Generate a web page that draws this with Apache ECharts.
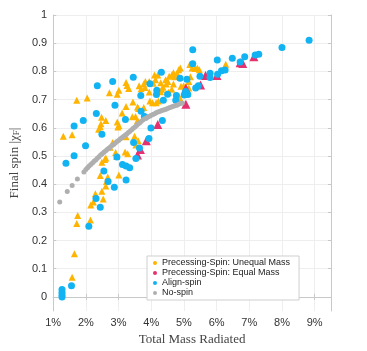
<!DOCTYPE html>
<html>
<head>
<meta charset="utf-8">
<script src="https://cdn.jsdelivr.net/npm/echarts@6/dist/echarts.min.js"></script>
<style>
  html, body { margin: 0; padding: 0; background: #fff; }
  #chart { width: 367px; height: 351px; }
</style>
</head>
<body>
<div id="chart"></div>
<script>
// [mass radiated %, final spin]
var unequalMass = [
  [1.58,0.07],[1.65,0.153],[1.72,0.26],[1.75,0.289],[2.14,0.273],[2.15,0.326],[2.23,0.337],[2.29,0.366],
  [2.49,0.375],[2.53,0.347],[2.61,0.393],[2.44,0.431],[2.67,0.425],[2.63,0.409],[3.01,0.432],[2.49,0.478],
  [2.58,0.487],[2.61,0.493],[2.91,0.512],[2.94,0.498],[3.2,0.514],[3.28,0.508],[2.74,0.531],[2.82,0.548],
  [3.49,0.57],[3.53,0.539],[3.6,0.554],[3.23,0.568],
  [1.31,0.57],[1.58,0.575],[1.72,0.698],[2.04,0.706],[2.39,0.595],[2.44,0.604],[2.46,0.614],[2.48,0.637],
  [2.61,0.626],[2.72,0.724],[2.96,0.719],[3.01,0.733],[2.96,0.62],[3.01,0.608],[2.98,0.603],[3.11,0.652],
  [3.23,0.675],[3.23,0.761],[3.26,0.75],[3.31,0.739],[3.44,0.691],[3.42,0.639],[3.52,0.64],[3.58,0.626],
  [3.61,0.668],[3.58,0.674],[3.63,0.749],[3.69,0.738],[3.77,0.755],[3.82,0.764],[3.81,0.743],[3.94,0.764],
  [3.94,0.727],[3.96,0.695],[4.04,0.689],[4.15,0.689],[4.22,0.695],[4.06,0.758],[4.13,0.77],[4.1,0.787],
  [4.2,0.787],[4.29,0.76],[4.44,0.77],[4.46,0.755],[4.32,0.737],[4.36,0.744],[4.29,0.728],[4.51,0.764],
  [4.55,0.783],[4.63,0.787],[4.68,0.795],[4.72,0.781],[4.79,0.793],[4.84,0.806],[4.89,0.812],[4.68,0.755],
  [4.63,0.737],[4.53,0.726],[5.18,0.824],[5.25,0.812],[5.34,0.81],[5.41,0.812],[5.47,0.806],[5.2,0.781],
  [4.91,0.747],[4.99,0.749],[5.15,0.741],[6.28,0.825],[4.89,0.703],[3.77,0.672],[5.15,0.764]
];
var equalMass = [
  [3.58,0.503],[3.67,0.523],[3.85,0.554],[4.2,0.612],[5.06,0.683],[5.06,0.741],[5.51,0.752],[5.66,0.785],
  [6.01,0.785],[6.72,0.831],[6.8,0.828],[7.14,0.852]
];
var alignSpin = [
  [1.27,0.026],[1.27,0.016],[1.27,0.007],[1.27,0.0],[1.56,0.04],
  [1.39,0.474],[1.64,0.501],[1.64,0.606],[1.92,0.626],[1.99,0.536],[2.32,0.651],[2.35,0.749],[2.49,0.577],
  [2.82,0.764],[2.89,0.68],[2.95,0.496],[3.21,0.629],[3.45,0.779],[3.68,0.714],[3.69,0.659],[3.46,0.548],
  [3.12,0.47],[3.23,0.464],[3.34,0.458],[3.53,0.491],[3.64,0.528],[2.55,0.447],[2.68,0.409],[2.31,0.349],
  [2.44,0.318],[2.09,0.251],[2.87,0.389],[3.23,0.415],
  [3.82,0.637],[4.34,0.626],[3.99,0.599],[3.93,0.562],[3.96,0.756],[4.31,0.797],[4.88,0.776],[5.09,0.772],
  [5.49,0.783],[5.8,0.793],[5.8,0.778],[6.03,0.79],[6.15,0.802],[6.26,0.805],[5.44,0.749],[5.36,0.741],
  [5.05,0.729],[5.12,0.718],[5.01,0.716],[4.77,0.714],[4.5,0.719],[4.37,0.698],[4.75,0.698],[4.17,0.733],
  [5.27,0.877],[5.27,0.827],[6.02,0.84],[6.48,0.847],[6.86,0.852],[7.18,0.858],[7.29,0.861],[8.0,0.885],
  [8.83,0.91],[6.72,0.833],[3.79,0.64],[4.16,0.718]
];
var noSpinX = [1.2,1.43,1.58,1.74,1.94,2.0,2.05,2.1,2.15,2.2,2.25,2.3,2.35,2.4,2.45,2.5,2.55,2.6,2.65,2.7,
  2.75,2.8,2.85,2.9,2.95,3.0,3.05,3.1,3.15,3.2,3.25,3.3,3.35,3.4,3.45,3.5,3.55,3.6,3.65,3.7,3.75,3.8,3.85,
  3.9,3.95,4.0,4.05,4.1,4.15,4.2,4.25,4.3,4.35,4.4,4.45,4.5,4.55,4.6,4.65,4.7,4.75,4.8,4.85,4.9,4.95];
var noSpinY = [0.337,0.374,0.395,0.418,0.443,0.452,0.458,0.464,0.47,0.475,0.481,0.486,0.492,0.497,0.503,
  0.508,0.513,0.518,0.523,0.527,0.532,0.537,0.541,0.546,0.551,0.555,0.56,0.565,0.569,0.573,0.578,0.583,
  0.588,0.593,0.598,0.603,0.608,0.613,0.618,0.623,0.628,0.632,0.635,0.638,0.641,0.644,0.647,0.65,0.653,
  0.656,0.658,0.66,0.662,0.664,0.666,0.668,0.671,0.673,0.675,0.677,0.679,0.681,0.684,0.686,0.688];
var yTicks = [0,0.1,0.2,0.3,0.4,0.5,0.6,0.7,0.8,0.9,1];

var noSpin = noSpinX.map(function (x, i) { return [x, noSpinY[i]]; });

var lineCol = '#c8c8c8';
var labelStyle = { color: '#333', fontSize: 11, fontFamily: 'Liberation Sans, Arial, sans-serif' };

function xAx(pos, show) {
  return {
    type: 'value', position: pos, min: 1, max: 9.5, interval: 1,
    axisLine: { show: true, lineStyle: { color: lineCol } },
    axisTick: { show: true, inside: true, length: 3, lineStyle: { color: lineCol } },
    axisLabel: Object.assign({ show: show, margin: 6, formatter: '{value}%', showMaxLabel: false }, labelStyle),
    splitLine: { show: show, lineStyle: { color: '#eeeeee' } }
  };
}
function yAx(pos, show) {
  return {
    type: 'value', position: pos, min: -0.05, max: 1,
    axisLine: { show: true, lineStyle: { color: lineCol } },
    axisTick: { show: true, inside: true, length: 3, customValues: yTicks, lineStyle: { color: lineCol } },
    axisLabel: Object.assign({ show: show, margin: 6, customValues: yTicks,
      formatter: function (v) { return (v === 0 || v === 1) ? String(v) : v.toFixed(1); } }, labelStyle),
    splitLine: { show: show, lineStyle: { color: '#eeeeee' } }
  };
}

var chart = echarts.init(document.getElementById('chart'));
var xMain = xAx('bottom', true);
xMain.name = 'Total Mass Radiated';
xMain.nameLocation = 'middle';
xMain.nameGap = 22;
xMain.nameTextStyle = { fontFamily: 'Liberation Serif, DejaVu Serif, serif', fontSize: 13, color: '#444' };
var yMain = yAx('left', true);
yMain.name = '{a|Final spin |χ}{s|F}{a||}';
yMain.nameLocation = 'middle';
yMain.nameGap = 23;
yMain.nameTextStyle = {
  rich: {
    a: { fontFamily: 'Liberation Serif, DejaVu Serif, serif', fontSize: 13, color: '#444' },
    s: { fontFamily: 'Liberation Serif, DejaVu Serif, serif', fontSize: 9, color: '#444', padding: [4, 0, 0, 0] }
  }
};

chart.setOption({
  animation: false,
  grid: { left: 32, right: 36, top: 15, bottom: 34 },
  xAxis: [xMain, xAx('top', false)],
  yAxis: [yMain, yAx('right', false)],
  legend: {
    orient: 'vertical', left: 147, top: 256,
    backgroundColor: '#fff', borderColor: '#cfcfcf', borderWidth: 1, borderRadius: 0,
    padding: [2, 9, 2, 6], itemGap: 0, itemWidth: 4, itemHeight: 4,
    textStyle: { fontSize: 9, color: '#222', lineHeight: 10, fontFamily: 'Liberation Sans, Arial, sans-serif' },
    data: [
      { name: 'Precessing-Spin: Unequal Mass', icon: 'circle' },
      { name: 'Precessing-Spin: Equal Mass', icon: 'circle' },
      { name: 'Align-spin', icon: 'circle' },
      { name: 'No-spin', icon: 'circle' }
    ]
  },
  series: [
    { name: 'Precessing-Spin: Unequal Mass', type: 'scatter', symbol: 'triangle', symbolSize: 7,
      itemStyle: { color: '#FFB400', opacity: 1 }, data: unequalMass },
    { name: 'Precessing-Spin: Equal Mass', type: 'scatter', symbol: 'triangle', symbolSize: 9,
      itemStyle: { color: '#E5316F', opacity: 1 }, data: equalMass },
    { name: 'Align-spin', type: 'scatter', symbol: 'circle', symbolSize: 7,
      itemStyle: { color: '#12B3F2', opacity: 1 }, data: alignSpin },
    { name: 'No-spin', type: 'scatter', symbol: 'circle', symbolSize: 5,
      itemStyle: { color: '#AFAFAF', opacity: 1 }, data: noSpin }
  ]
});
</script>
</body>
</html>
